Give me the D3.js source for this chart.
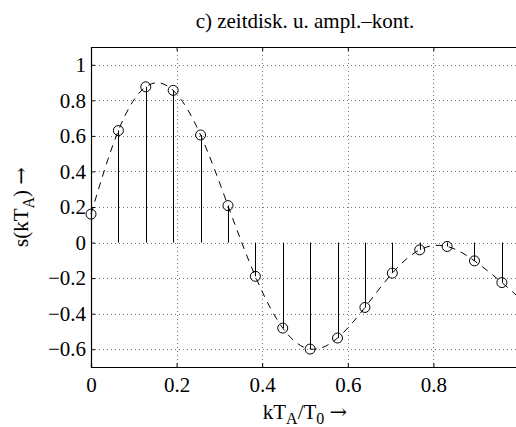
<!DOCTYPE html>
<html>
<head>
<meta charset="utf-8">
<script src="https://cdn.jsdelivr.net/npm/d3@7"></script>
<style>
  body { margin: 0; background: #fff; }
  svg { display: block; }
</style>
</head>
<body>
<div id="chart"></div>
<script>
(function() {
    const width = 516;
    const height = 427;
    const serif = '"Liberation Serif"';

    // sample index k, sample spacing T_A/T_0
    const sampleIdx = d3.range(16);
    const sampleStep = 0.064;
    // s(kT_A)
    const sampleVals = [0.16, 0.63, 0.876, 0.856, 0.605, 0.208, -0.19, -0.481,
                        -0.599, -0.537, -0.365, -0.172, -0.041, -0.022, -0.103, -0.225];
    // where the dashed continuous signal ends, right of the last sample
    const curveEnd = { x: 1.0, y: -0.31 };

    const xTicks = [0, 0.2, 0.4, 0.6, 0.8, 1];
    const yTicks = [-0.6, -0.4, -0.2, 0, 0.2, 0.4, 0.6, 0.8, 1];

    const margin = { top: 47, left: 91, bottom: 60 };
    const plotW = 428;
    const plotH = height - margin.top - margin.bottom;

    const svg = d3.select("#chart")
        .append("svg")
        .attr("width", width)
        .attr("height", height);

    const x = d3.scaleLinear().domain([0, 1]).range([margin.left, margin.left + plotW]);
    const y = d3.scaleLinear().domain([-0.7, 1.1]).range([margin.top + plotH, margin.top]);

    const samples = sampleIdx.map((k, i) => ({ x: k * sampleStep, y: sampleVals[i] }));

    // dotted grid
    const grid = svg.append("g").attr("class", "grid");
    grid.selectAll(".gx")
        .data(xTicks.filter(d => d > 0 && d < 1))
        .enter().append("line")
        .attr("x1", d => Math.round(x(d)) + 0.5)
        .attr("x2", d => Math.round(x(d)) + 0.5)
        .attr("y1", y(1.1))
        .attr("y2", y(-0.7))
        .attr("stroke", "#777")
        .attr("stroke-width", 1)
        .attr("stroke-dasharray", "1,3");
    grid.selectAll(".gy")
        .data(yTicks)
        .enter().append("line")
        .attr("x1", x(0))
        .attr("x2", x(1))
        .attr("y1", d => Math.round(y(d)) + 0.5)
        .attr("y2", d => Math.round(y(d)) + 0.5)
        .attr("stroke", "#777")
        .attr("stroke-width", 1)
        .attr("stroke-dasharray", "1,3");

    // dashed continuous signal
    const line = d3.line()
        .x(d => x(d.x))
        .y(d => y(d.y))
        .curve(d3.curveNatural);
    svg.append("path")
        .datum(samples.concat([curveEnd]))
        .attr("d", line)
        .attr("fill", "none")
        .attr("stroke", "#000")
        .attr("stroke-width", 1)
        .attr("stroke-dasharray", "7,6");

    // stems
    svg.selectAll(".stem")
        .data(samples)
        .enter().append("line")
        .attr("class", "stem")
        .attr("x1", d => Math.round(x(d.x)) + 0.5)
        .attr("x2", d => Math.round(x(d.x)) + 0.5)
        .attr("y1", y(0))
        .attr("y2", d => y(d.y))
        .attr("stroke", "#000")
        .attr("stroke-width", 1);

    // sample markers
    svg.selectAll(".mark")
        .data(samples)
        .enter().append("circle")
        .attr("class", "mark")
        .attr("cx", d => x(d.x))
        .attr("cy", d => y(d.y))
        .attr("r", 5)
        .attr("fill", "none")
        .attr("stroke", "#000")
        .attr("stroke-width", 1);

    // axes box (MATLAB style, ticks pointing in); label "1" lies past the crop
    const xAxis = d3.axisBottom(x).tickValues(xTicks).tickSize(-4).tickPadding(10)
        .tickFormat(d => d === 1 ? "" : String(d));
    const yAxis = d3.axisLeft(y).tickValues(yTicks).tickSize(-4).tickPadding(5)
        .tickFormat(d => d < 0 ? "\u2212" + Math.abs(d) : String(d));

    const gx = svg.append("g")
        .attr("transform", `translate(0,${y(-0.7)})`)
        .call(xAxis);
    const gy = svg.append("g")
        .attr("transform", `translate(${x(0)},0)`)
        .call(yAxis);
    svg.append("g")
        .attr("transform", `translate(0,${y(1.1)})`)
        .call(d3.axisTop(x).tickValues(xTicks).tickSize(-4).tickFormat(""));

    [gx, gy].forEach(g => {
        g.attr("font-family", serif).attr("font-size", 21);
        g.select(".domain").attr("stroke", "#000").attr("stroke-width", 1.2);
        g.selectAll(".tick line").attr("stroke", "#000");
        g.selectAll("text")
            .attr("fill", "#000")
            .style("font-family", serif)
            .style("font-size", "21px");
    });
    gx.selectAll("text").attr("dy", "0.71em");

    // title
    svg.append("text")
        .attr("x", x(0.5))
        .attr("y", 28)
        .attr("text-anchor", "middle")
        .style("font-family", serif)
        .style("font-size", "21px")
        .text("c) zeitdisk. u. ampl.\u2013kont.");

    // x label
    const xl = svg.append("text")
        .attr("x", x(0.5))
        .attr("y", 419)
        .attr("text-anchor", "middle")
        .style("font-family", serif)
        .style("font-size", "21px");
    xl.append("tspan").text("kT");
    xl.append("tspan").attr("dy", 5).style("font-size", "16px").text("A");
    xl.append("tspan").attr("dy", -5).text("/T");
    xl.append("tspan").attr("dy", 5).style("font-size", "16px").text("0");
    xl.append("tspan").attr("dy", -5).text(" ");
    xl.append("tspan").style("font-family", '"DejaVu Serif"').text("\u2192");

    // y label
    const yl = svg.append("text")
        .attr("transform", `translate(28,${y(0.2)}) rotate(-90)`)
        .attr("text-anchor", "middle")
        .style("font-family", serif)
        .style("font-size", "21px");
    yl.append("tspan").text("s(kT");
    yl.append("tspan").attr("dy", 6).style("font-size", "16px").text("A");
    yl.append("tspan").attr("dy", -6).text(") ");
    yl.append("tspan").style("font-family", '"DejaVu Serif"').text("\u2192");
})();
</script>
</body>
</html>
